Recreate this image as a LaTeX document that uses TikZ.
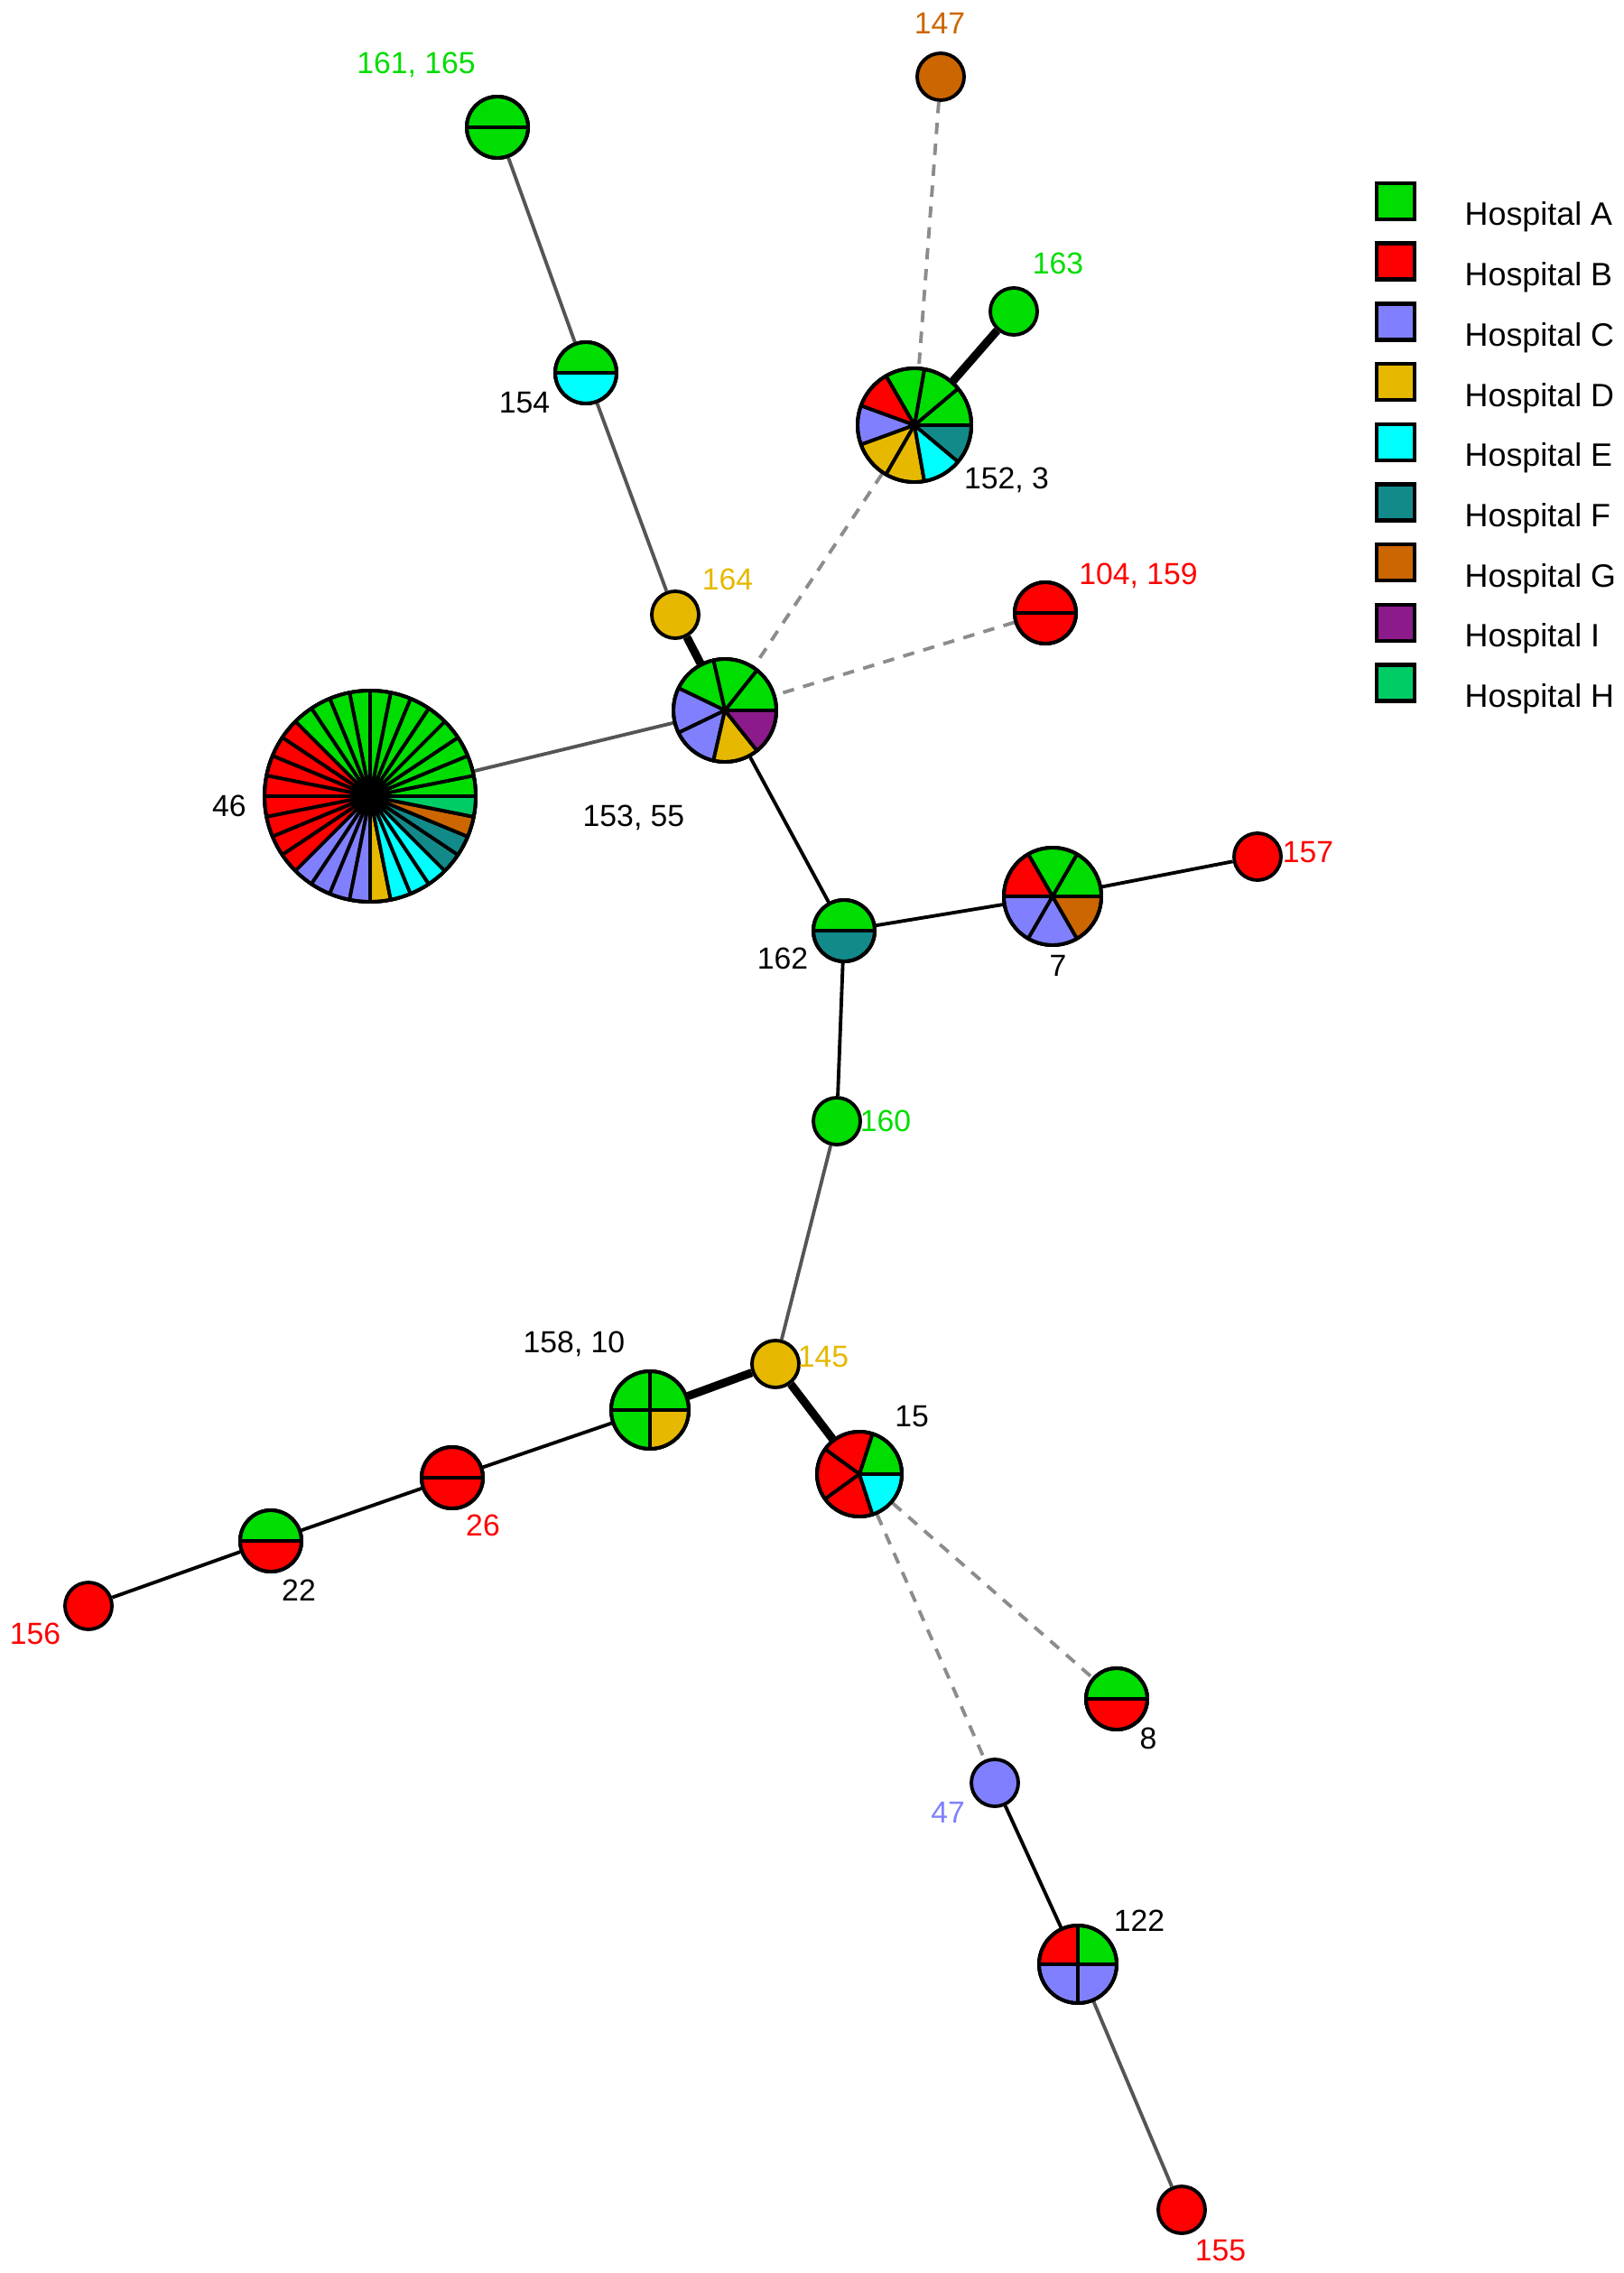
\documentclass[tikz,border=0pt]{standalone}
\usepackage{fontspec}
\setmainfont{Liberation Sans}
\usetikzlibrary{positioning}
\definecolor{colA}{RGB}{0,221,0}
\definecolor{colB}{RGB}{255,0,0}
\definecolor{colC}{RGB}{128,128,255}
\definecolor{colD}{RGB}{230,184,0}
\definecolor{colE}{RGB}{0,255,255}
\definecolor{colF}{RGB}{19,138,138}
\definecolor{colG}{RGB}{204,102,0}
\definecolor{colI}{RGB}{139,26,139}
\definecolor{colH}{RGB}{0,204,102}
\definecolor{edgegray}{RGB}{85,85,85}
\definecolor{dashgray}{RGB}{140,140,140}
\tikzset{
    hap/.style={circle, draw, line width=1.1pt, inner sep=0pt,
        minimum size=#1},
    hap/.default={0.52cm},
    slice/.style={line width=1.1pt, line join=round},
    link/.style={line width=1.1pt},
    glink/.style={line width=1.1pt, edgegray},
    tlink/.style={line width=2.6pt},
    dlink/.style={line width=1.1pt, dashgray, dash pattern=on 3.6pt off 3pt},
    lbl/.style={font=\fontsize{9.6}{11.5}\selectfont, inner sep=0pt},
    legbox/.style={draw, line width=1.3pt, minimum width=0.42cm,
        minimum height=0.40cm, inner sep=0pt},
    legtext/.style={font=\fontsize{10.2}{12}\selectfont, inner sep=0pt},
}
% slices of a haplotype pie, counter-clockwise from east
\newcommand{\drawpie}[4]{%
    \foreach \c [count=\i] in {#4} {
        \pgfmathsetmacro{\sa}{(\i-1)*360/#3}
        \pgfmathsetmacro{\ea}{\i*360/#3}
        \filldraw[slice, fill=\c] (#1.center) -- ++(\sa:#2)
            arc[start angle=\sa, end angle=\ea, radius=#2] -- cycle;
    }
    \draw[slice] (#1.center) circle (#2);
}

\begin{document}
\begin{tikzpicture}
    \useasboundingbox (0,0) rectangle (17.99,-25.18);

    % haplotypes
    \node[hap=0.68cm] (n161) at (5.51,-1.41) {};
    \node[hap, fill=colG] (n147) at (10.42,-0.85) {};
    \node[hap, fill=colA] (n163) at (11.23,-3.45) {};
    \node[hap=1.26cm] (n152) at (10.13,-4.71) {};
    \node[hap=0.68cm] (n154) at (6.49,-4.13) {};
    \node[hap, fill=colD] (n164) at (7.48,-6.81) {};
    \node[hap=0.68cm] (n104) at (11.58,-6.79) {};
    \node[hap=1.14cm] (n153) at (8.03,-7.87) {};
    \node[hap=2.34cm] (n46) at (4.10,-8.82) {};
    \node[hap=0.68cm] (n162) at (9.35,-10.31) {};
    \node[hap=1.08cm] (n7) at (11.66,-9.93) {};
    \node[hap, fill=colB] (n157) at (13.93,-9.49) {};
    \node[hap, fill=colA] (n160) at (9.27,-12.42) {};
    \node[hap, fill=colD] (n145) at (8.59,-15.11) {};
    \node[hap=0.86cm] (n158) at (7.20,-15.62) {};
    \node[hap=0.94cm] (n15) at (9.52,-16.33) {};
    \node[hap=0.68cm] (n26) at (5.01,-16.37) {};
    \node[hap=0.68cm] (n22) at (3.00,-17.07) {};
    \node[hap, fill=colB] (n156) at (0.98,-17.79) {};
    \node[hap=0.68cm] (n8) at (12.37,-18.82) {};
    \node[hap, fill=colC] (n47) at (11.02,-19.75) {};
    \node[hap=0.86cm] (n122) at (11.94,-21.76) {};
    \node[hap, fill=colB] (n155) at (13.09,-24.48) {};

    % links
    \draw[glink] (n161) -- (n154);
    \draw[glink] (n154) -- (n164);
    \draw[tlink] (n164) -- (n153);
    \draw[dlink] (n147) -- (n152);
    \draw[dlink] (n152) -- (n153);
    \draw[tlink] (n163) -- (n152);
    \draw[dlink] (n104) -- (n153);
    \draw[glink] (n46) -- (n153);
    \draw[link] (n153) -- (n162);
    \draw[link] (n162) -- (n7);
    \draw[link] (n7) -- (n157);
    \draw[link] (n162) -- (n160);
    \draw[glink] (n160) -- (n145);
    \draw[tlink] (n145) -- (n158);
    \draw[tlink] (n145) -- (n15);
    \draw[link] (n158) -- (n26);
    \draw[link] (n26) -- (n22);
    \draw[link] (n22) -- (n156);
    \draw[dlink] (n15) -- (n8);
    \draw[dlink] (n15) -- (n47);
    \draw[link] (n47) -- (n122);
    \draw[glink] (n122) -- (n155);

    % pies
    \drawpie{n161}{0.34cm}{2}{colA,colA}
    \drawpie{n154}{0.34cm}{2}{colA,colE}
    \drawpie{n104}{0.34cm}{2}{colB,colB}
    \drawpie{n162}{0.34cm}{2}{colA,colF}
    \drawpie{n26}{0.34cm}{2}{colB,colB}
    \drawpie{n22}{0.34cm}{2}{colA,colB}
    \drawpie{n8}{0.34cm}{2}{colA,colB}
    \drawpie{n158}{0.43cm}{4}{colA,colA,colA,colD}
    \drawpie{n122}{0.43cm}{4}{colA,colB,colC,colC}
    \drawpie{n15}{0.47cm}{5}{colA,colB,colB,colB,colE}
    \drawpie{n7}{0.54cm}{6}{colA,colA,colB,colC,colC,colG}
    \drawpie{n153}{0.57cm}{7}{colA,colA,colA,colC,colC,colD,colI}
    \drawpie{n152}{0.63cm}{9}{colA,colA,colA,colB,colC,colD,colD,colE,colF}
    \drawpie{n46}{1.17cm}{32}{colA,colA,colA,colA,colA,colA,colA,colA,
        colA,colA,colA,colA,colB,colB,colB,colB,colB,colB,colB,colB,
        colC,colC,colC,colC,colD,colE,colE,colE,colF,colF,colG,colH}

    % labels
    \node[lbl, colA] (t161) at (4.61,-0.72) {161, 165};
    \node[lbl, colG] (t147) at (10.41,-0.26) {147};
    \node[lbl, colA] (t163) at (11.72,-2.92) {163};
    \node[lbl] (t152) at (11.15,-5.32) {152, 3};
    \node[lbl] (t154) at (5.81,-4.46) {154};
    \node[lbl, colD] (t164) at (8.06,-6.42) {164};
    \node[lbl, colB] (t104) at (12.61,-6.38) {104, 159};
    \node[lbl] (t46) at (2.54,-8.93) {46};
    \node[lbl] (t153) at (7.02,-9.06) {153, 55};
    \node[lbl] (t162) at (8.67,-10.62) {162};
    \node[lbl] (t7) at (11.72,-10.70) {7};
    \node[lbl, colB] (t157) at (14.49,-9.44) {157};
    \node[lbl, colA] (t160) at (9.81,-12.42) {160};
    \node[lbl] (t158) at (6.36,-14.89) {158, 10};
    \node[lbl, colD] (t145) at (9.12,-15.03) {145};
    \node[lbl] (t15) at (10.10,-15.69) {15};
    \node[lbl, colB] (t26) at (5.35,-16.90) {26};
    \node[lbl] (t22) at (3.31,-17.62) {22};
    \node[lbl, colB] (t156) at (0.39,-18.10) {156};
    \node[lbl] (t8) at (12.72,-19.26) {8};
    \node[lbl, colC] (t47) at (10.50,-20.08) {47};
    \node[lbl] (t122) at (12.62,-21.28) {122};
    \node[lbl, colB] (t155) at (13.52,-24.93) {155};

    % legend
    \foreach \h/\hc [count=\k from 0] in {A/colA, B/colB, C/colC, D/colD,
        E/colE, F/colF, G/colG, I/colI, H/colH} {
        \node[legbox, fill=\hc] (leg\h) at (15.46,-2.23-0.667*\k) {};
        \node[legtext, anchor=base west] (legt\h) at (16.22,-2.50-0.667*\k)
            {Hospital \h};
    }
\end{tikzpicture}
\end{document}
